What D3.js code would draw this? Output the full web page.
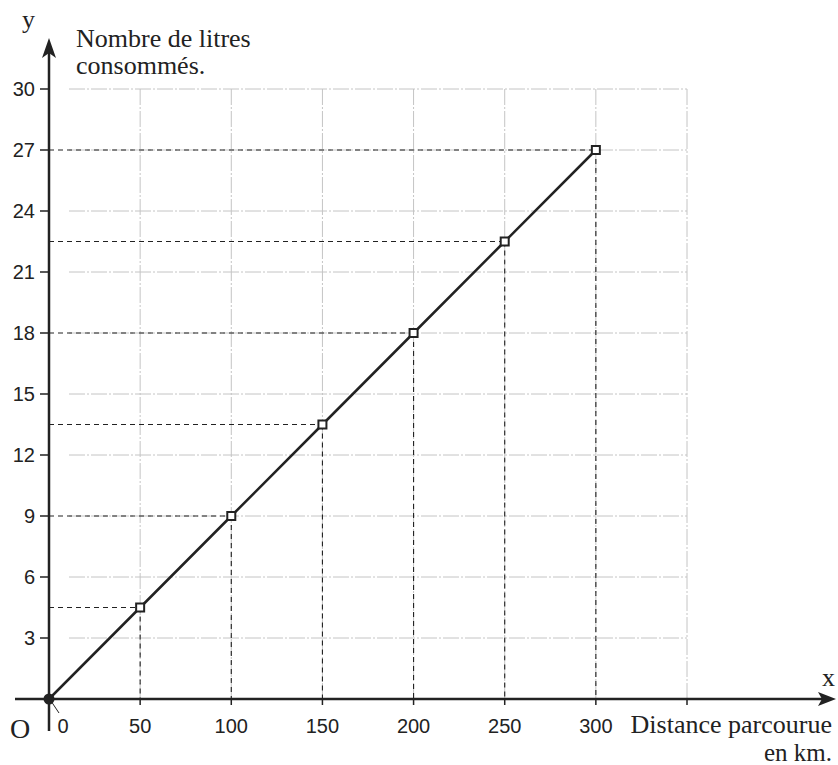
<!DOCTYPE html>
<html>
<head>
<meta charset="utf-8">
<script src="https://cdn.jsdelivr.net/npm/d3@7"></script>
<style>
  body { margin: 0; background: #fff; }
  .tick-label { font-family: "Liberation Sans", Arial, sans-serif; font-size: 20px; fill: #222; }
  .serif { font-family: "Liberation Serif", "Times New Roman", serif; font-size: 26px; fill: #222; }
</style>
</head>
<body>
<div id="chart"></div>
<script>
// Distance (km) vs litres consumed

const distances = [0, 50, 100, 150, 200, 250, 300];
const litres = [0, 4.5, 9, 13.5, 18, 22.5, 27];
const xTicks = [0, 50, 100, 150, 200, 250, 300];
const yTicks = [3, 6, 9, 12, 15, 18, 21, 24, 27, 30];
const xGrid = [50, 100, 150, 200, 250, 300, 350];

const width = 838,
    height = 765;

const svg = d3.select("#chart")
    .append("svg")
    .attr("width", width)
    .attr("height", height);

const x = d3.scaleLinear()
    .domain([0, 350])
    .range([49, 687]);

const y = d3.scaleLinear()
    .domain([0, 30])
    .range([699, 89]);

const points = distances.map((d, i) => ({ x: d, y: litres[i] }));
const ink = "#222";

// grid
const grid = svg.append("g")
    .attr("stroke", "#c4c4c4")
    .attr("stroke-width", 1)
    .attr("stroke-dasharray", "16,2,2,2");

grid.selectAll("line.v")
  .data(xGrid)
  .join("line")
    .attr("class", "v")
    .attr("x1", d => x(d)).attr("x2", d => x(d))
    .attr("y1", y(30)).attr("y2", y(0));

grid.selectAll("line.h")
  .data(yTicks)
  .join("line")
    .attr("class", "h")
    .attr("x1", x(0) + 20).attr("x2", x(350))
    .attr("y1", d => y(d)).attr("y2", d => y(d));

// dashed projections
const proj = svg.append("g")
    .attr("stroke", ink)
    .attr("stroke-width", 1.1)
    .attr("stroke-dasharray", "5,4");

proj.selectAll("line.px")
  .data(points.slice(1))
  .join("line")
    .attr("class", "px")
    .attr("x1", d => x(d.x)).attr("x2", d => x(d.x))
    .attr("y1", d => y(d.y)).attr("y2", y(0));

proj.selectAll("line.py")
  .data(points.slice(1))
  .join("line")
    .attr("class", "py")
    .attr("x1", x(0)).attr("x2", d => x(d.x))
    .attr("y1", d => y(d.y)).attr("y2", d => y(d.y));

// axes
const axes = svg.append("g").attr("stroke", ink).attr("stroke-width", 2.5);
axes.append("line")
    .attr("x1", 15).attr("x2", 826)
    .attr("y1", y(0)).attr("y2", y(0));
axes.append("line")
    .attr("x1", x(0)).attr("x2", x(0))
    .attr("y1", 731).attr("y2", 50);

svg.append("path")
    .attr("d", `M836,${y(0)} L818,${y(0) - 7} L822,${y(0)} L818,${y(0) + 7} Z`)
    .attr("fill", ink);
svg.append("path")
    .attr("d", `M${x(0)},38 L${x(0) - 7},58 L${x(0)},53 L${x(0) + 7},58 Z`)
    .attr("fill", ink);

// ticks
svg.append("g").selectAll("line")
  .data(yTicks)
  .join("line")
    .attr("x1", x(0) - 9).attr("x2", x(0))
    .attr("y1", d => y(d)).attr("y2", d => y(d))
    .attr("stroke", ink).attr("stroke-width", 1.5);

svg.append("g").selectAll("line")
  .data(xTicks.slice(1).concat([350]))
  .join("line")
    .attr("x1", d => x(d)).attr("x2", d => x(d))
    .attr("y1", y(0)).attr("y2", y(0) + 6)
    .attr("stroke", ink).attr("stroke-width", 1.5);

svg.append("g").selectAll("text")
  .data(yTicks)
  .join("text")
    .attr("class", "tick-label")
    .attr("x", 35)
    .attr("y", d => y(d) + 7)
    .attr("text-anchor", "end")
    .text(d => d);

svg.append("g").selectAll("text")
  .data(xTicks)
  .join("text")
    .attr("class", "tick-label")
    .attr("x", d => d === 0 ? x(d) + 14 : x(d))
    .attr("y", 733)
    .attr("text-anchor", "middle")
    .text(d => d);

// line + markers
svg.append("path")
    .datum(points)
    .attr("fill", "none")
    .attr("stroke", ink)
    .attr("stroke-width", 2.5)
    .attr("d", d3.line().x(d => x(d.x)).y(d => y(d.y)));

svg.append("g").selectAll("rect")
  .data(points.slice(1))
  .join("rect")
    .attr("x", d => x(d.x) - 4)
    .attr("y", d => y(d.y) - 4)
    .attr("width", 8)
    .attr("height", 8)
    .attr("fill", "#fff")
    .attr("stroke", ink)
    .attr("stroke-width", 2);

svg.append("circle")
    .attr("cx", x(0)).attr("cy", y(0)).attr("r", 5.5)
    .attr("fill", ink);
svg.append("line")
    .attr("x1", x(0) + 2).attr("y1", y(0) + 2)
    .attr("x2", x(0) + 10).attr("y2", y(0) + 14)
    .attr("stroke", ink).attr("stroke-width", 1);

// labels
svg.append("text").attr("class", "serif").attr("x", 22).attr("y", 28).text("y");
svg.append("text").attr("class", "serif").attr("x", 76).attr("y", 47).text("Nombre de litres");
svg.append("text").attr("class", "serif").attr("x", 76).attr("y", 74).text("consommés.");
svg.append("text").attr("class", "serif").attr("x", 822).attr("y", 686).text("x");
svg.append("text").attr("class", "serif").attr("x", 10).attr("y", 738).style("font-size", "28px").text("O");
svg.append("text").attr("class", "serif").attr("x", 832).attr("y", 733).attr("text-anchor", "end").text("Distance parcourue");
svg.append("text").attr("class", "serif").attr("x", 832).attr("y", 761).attr("text-anchor", "end")
    .style("font-size", "25px").text("en km.");
</script>
</body>
</html>
